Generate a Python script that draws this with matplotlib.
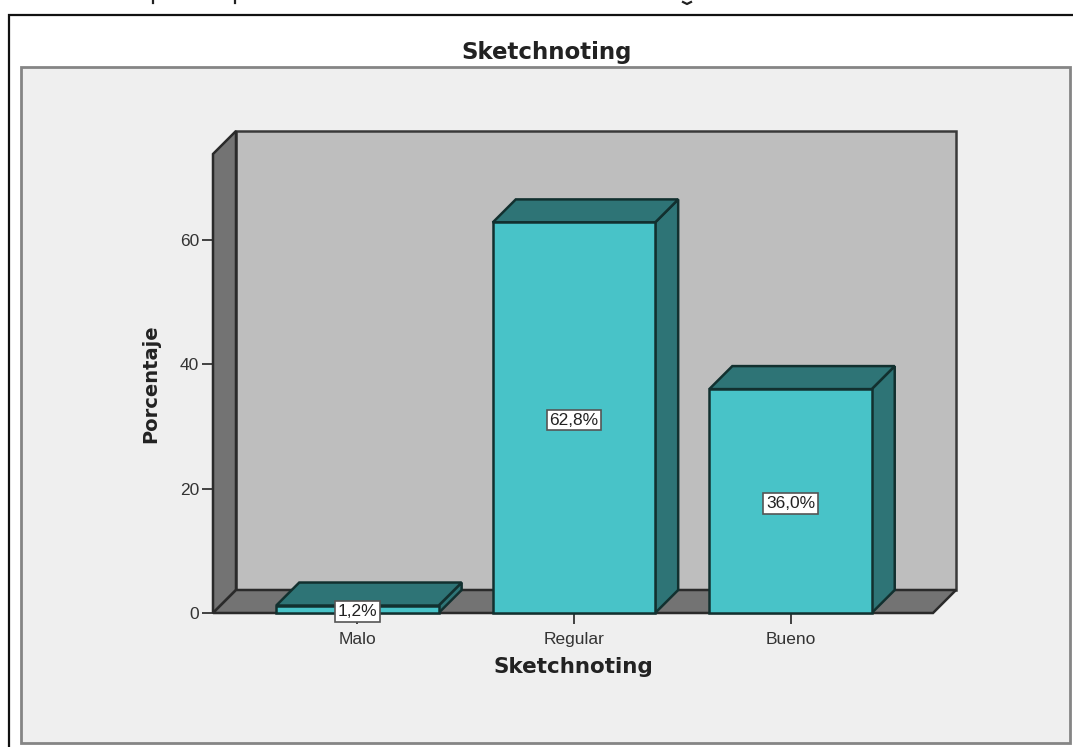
import matplotlib
matplotlib.use('Agg')
import matplotlib.pyplot as plt
from matplotlib.patches import Polygon, Rectangle

categories = ['Malo', 'Regular', 'Bueno']
percents = [1.2, 62.8, 36.0]
bar_labels = ['1,2%', '62,8%', '36,0%']
y_ticks = [0, 20, 40, 60]

W, H = 1073, 747
plt.rcParams['font.family'] = ['Liberation Sans', 'DejaVu Sans']

FRONT = '#48c3c8'
DARK = '#2e7476'
EDGE = '#12302f'
WALL = '#bebebe'
SIDE = '#737373'


def px_rect(x0, y0, x1, y1):
    # pixel box, y measured from the top of the image
    return [x0 / W, 1 - y1 / H, (x1 - x0) / W, (y1 - y0) / H]


fig = plt.figure(figsize=(W / 100, H / 100), dpi=100, facecolor='white')

# frame and grey panel
bg = fig.add_axes([0, 0, 1, 1])
bg.set_xlim(0, W)
bg.set_ylim(H, 0)
bg.axis('off')
bg.add_patch(Rectangle((9, 15), 1080, 760, fc='white', ec='#111111', lw=1.6))
bg.add_patch(Rectangle((21, 67), 1049, 676, fc='#efefef', ec='#858585', lw=2))
bg.text(547, 52, 'Sketchnoting', ha='center', va='center', fontsize=16.5, fontweight='bold',
        family='DejaVu Sans', color='#222222')
# bits of the cropped line above the frame, too little of it shows to read
for x in [153, 235]:
    bg.plot([x, x], [0, 3], color='#222222', lw=1.6)
bg.plot([683, 687, 691], [2, 4, 2], color='#222222', lw=1.6)

# axes cover the front plane of the 3d box
ax = fig.add_axes(px_rect(213, 154, 933, 613))
ax.set_xlim(-0.667, 2.658)
ax.set_ylim(0, 73.8)
ax.patch.set_visible(False)
for s in ax.spines.values():
    s.set_visible(False)

dx = 23 / 216.5
dy = 23 / 6.217
xmin, xmax = ax.get_xlim()
ymin, ymax = ax.get_ylim()


def poly(pts, fc, z, lw=1.8, ec=EDGE):
    ax.add_patch(Polygon(pts, closed=True, fc=fc, ec=ec, lw=lw, joinstyle='miter', zorder=z, clip_on=False))


# back wall, side wall, floor
poly([(xmin + dx, ymin + dy), (xmax + dx, ymin + dy), (xmax + dx, ymax + dy), (xmin + dx, ymax + dy)], WALL, 1, ec='#3a3a3a')
poly([(xmin, ymin), (xmin + dx, ymin + dy), (xmin + dx, ymax + dy), (xmin, ymax)], SIDE, 2, ec='#2a2a2a')
poly([(xmin, ymin), (xmax, ymin), (xmax + dx, ymin + dy), (xmin + dx, ymin + dy)], SIDE, 2, ec='#2a2a2a')

# bars with top and side faces
width = 0.75
for i, v in enumerate(percents):
    l, r = i - width / 2, i + width / 2
    poly([(r, 0), (r + dx, dy), (r + dx, v + dy), (r, v)], DARK, 3 + i)
    poly([(l, v), (r, v), (r + dx, v + dy), (l + dx, v + dy)], DARK, 3 + i)
    ax.bar(i, v, width, color=FRONT, edgecolor=EDGE, linewidth=1.8, zorder=3.5 + i, clip_on=False)
    ax.text(i, v / 2 - 0.4, bar_labels[i], ha='center', va='center', fontsize=12.5, color='#222222', zorder=10,
            bbox=dict(boxstyle='square,pad=0.16', fc='white', ec='#555555', lw=1.2))

ax.set_xticks(range(len(categories)), categories)
ax.set_yticks(y_ticks)
ax.tick_params(axis='both', length=8, width=1.3, color='#333333', labelsize=12.5, labelcolor='#333333', pad=2)
ax.tick_params(axis='x', pad=6)
ax.set_xlabel('Sketchnoting', fontsize=15.5, fontweight='bold', family='DejaVu Sans', color='#222222')
ax.set_ylabel('Porcentaje', fontsize=14, fontweight='bold', family='DejaVu Sans', color='#222222')
ax.xaxis.set_label_coords(0.5, (613 - 657) / 459)
ax.yaxis.set_label_coords((160 - 213) / 720, (613 - 384) / 459)

fig.savefig('out.png', dpi=100, facecolor='white')
